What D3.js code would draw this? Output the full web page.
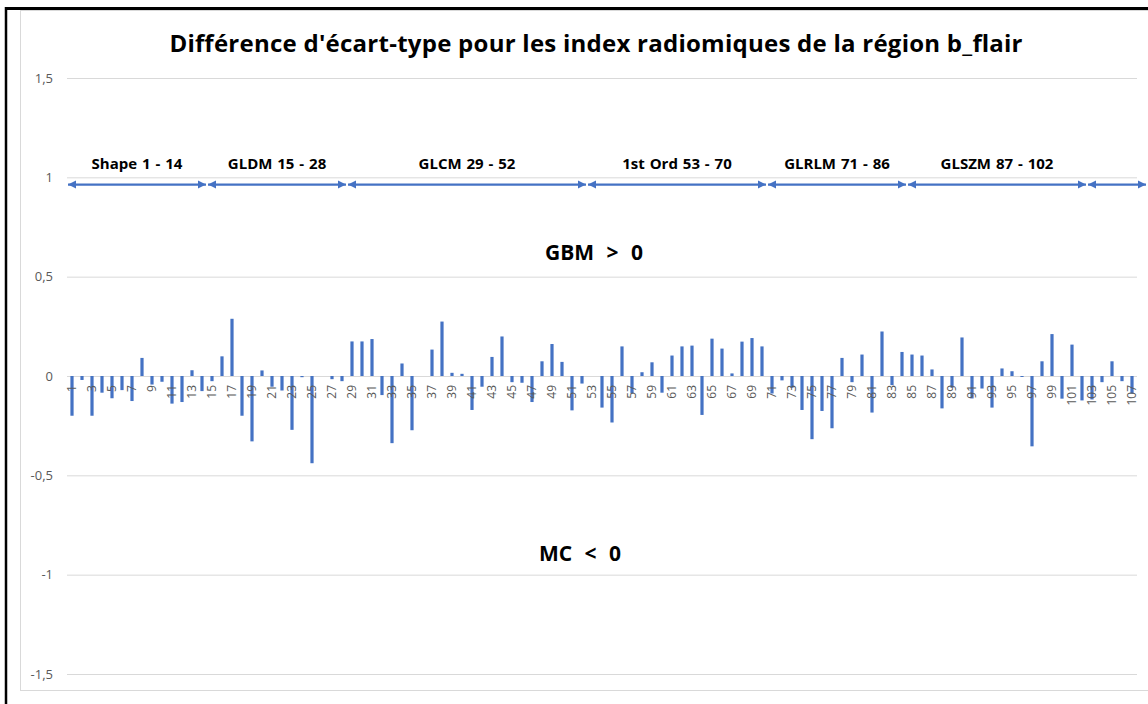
<!DOCTYPE html>
<html>
<head>
<meta charset="utf-8">
<script src="https://cdn.jsdelivr.net/npm/d3@7"></script>
<style>
  html, body { margin: 0; padding: 0; background: #fff; }
  svg { display: block; }
</style>
</head>
<body>
<svg id="chart" width="1148" height="704"></svg>
<script>
// Feature indices 1..107
const categories = d3.range(1, 108);

// Difference of standard deviation per radiomic feature (b_flair region)
const values = [
  -0.200, -0.020, -0.200, -0.084, -0.112, -0.071, -0.126, 0.091, -0.043, -0.029,
  -0.139, -0.131, 0.029, -0.076, -0.026, 0.099, 0.288, -0.200, -0.329, 0.028,
  -0.054, -0.073, -0.271, -0.006, -0.439, 0.000, -0.016, -0.026, 0.174, 0.174,
  0.186, -0.096, -0.338, 0.063, -0.273, 0.000, 0.133, 0.274, 0.016, 0.011,
  -0.171, -0.054, 0.096, 0.199, -0.031, -0.034, -0.131, 0.074, 0.161, 0.071,
  -0.173, -0.038, 0.000, -0.159, -0.234, 0.149, -0.088, 0.019, 0.069, -0.084,
  0.103, 0.149, 0.153, -0.196, 0.188, 0.138, 0.013, 0.173, 0.191, 0.149,
  -0.088, -0.022, -0.059, -0.171, -0.318, -0.176, -0.263, 0.091, -0.031, 0.108,
  -0.184, 0.224, -0.046, 0.121, 0.108, 0.103, 0.033, -0.163, -0.059, 0.194,
  -0.113, -0.063, -0.159, 0.038, 0.024, -0.005, -0.354, 0.074, 0.211, -0.114,
  0.158, -0.123, -0.118, -0.031, 0.074, -0.026, -0.089
];

// Value axis ticks
const yTicks = [-1.5, -1, -0.5, 0, 0.5, 1, 1.5];

// Category axis shows every other index
const xTickLabels = categories.filter(d => d % 2 === 1);

// Feature families: label and index span (from, to) along the category axis
const groupNames = ["Shape 1 - 14", "GLDM 15 - 28", "GLCM 29 - 52", "1st Ord 53 - 70", "GLRLM 71 - 86", "GLSZM 87 - 102", ""];
const groupFrom  = [0, 14, 28, 52, 70, 84, 102];
const groupTo    = [14, 28, 52, 70, 84, 102, 108];

const title = "Différence d'écart-type pour les index radiomiques de la région b_flair";
const upperNote = "GBM > 0";
const lowerNote = "MC < 0";

const BLUE = "#4472C4";
const GRID = "#d9d9d9";
const AXIS_TEXT = "#595959";
const FONT = "'Open Sans', sans-serif";

const svg = d3.select("#chart");

// Outer frame
svg.append("line").attr("x1", 6).attr("x2", 1148).attr("y1", 8.5).attr("y2", 8.5)
  .attr("stroke", "#000").attr("stroke-width", 3);
svg.append("line").attr("x1", 6).attr("x2", 6).attr("y1", 7).attr("y2", 704)
  .attr("stroke", "#000").attr("stroke-width", 2.5);

// Chart area border
svg.append("rect").attr("x", 20.5).attr("y", 10.5).attr("width", 1140).attr("height", 680)
  .attr("fill", "#fff").attr("stroke", GRID).attr("stroke-width", 1);

const plot = { left: 67, right: 1137, top: 78, bottom: 674 };

const x = d3.scaleBand()
  .domain(categories)
  .range([plot.left, plot.right])
  .paddingInner(0.68)
  .paddingOuter(0.34);

const y = d3.scaleLinear().domain([-1.5, 1.5]).range([plot.bottom, plot.top]);

const step = x.step();
// position of the boundary after index k (k = 0 is the left edge of the plot)
const boundary = k => plot.left + k * step;

const fmt = d3.formatLocale({ decimal: ",", thousands: " ", grouping: [3], currency: ["", " €"], minus: "-" }).format("~g");

// Gridlines and value labels
const yAxis = d3.axisLeft(y).tickValues(yTicks).tickSize(-(plot.right - plot.left)).tickPadding(14).tickFormat(fmt);
const gy = svg.append("g").attr("transform", `translate(${plot.left},0)`).call(yAxis);
gy.select(".domain").remove();
gy.selectAll(".tick line").attr("stroke", GRID).attr("stroke-width", 1);
gy.selectAll(".tick text")
  .attr("fill", AXIS_TEXT)
  .style("font-family", FONT)
  .style("font-size", "13px");

// Bars
svg.append("g").selectAll("rect")
  .data(values)
  .join("rect")
  .attr("x", (d, i) => x(categories[i]))
  .attr("width", x.bandwidth())
  .attr("y", d => y(Math.max(0, d)))
  .attr("height", d => Math.abs(y(d) - y(0)))
  .attr("fill", BLUE);

// Category labels, rotated
svg.append("g").selectAll("text")
  .data(xTickLabels)
  .join("text")
  .attr("transform", d => `translate(${x(d) + x.bandwidth() / 2},${y(0) + 9}) rotate(-90)`)
  .attr("text-anchor", "end")
  .attr("dy", "0.35em")
  .attr("fill", AXIS_TEXT)
  .style("font-family", FONT)
  .style("font-size", "12px")
  .text(d => d);

// Title
svg.append("text")
  .attr("x", 596).attr("y", 52)
  .attr("text-anchor", "middle")
  .attr("fill", "#000")
  .attr("textLength", 853)
  .attr("lengthAdjust", "spacing")
  .style("font-family", FONT)
  .style("font-weight", "bold")
  .style("font-size", "24px")
  .text(title);

// Family arrows
const defs = svg.append("defs");
defs.append("marker")
  .attr("id", "head")
  .attr("viewBox", "0 0 10 10")
  .attr("refX", 10).attr("refY", 5)
  .attr("markerWidth", 8).attr("markerHeight", 10)
  .attr("markerUnits", "userSpaceOnUse")
  .attr("orient", "auto-start-reverse")
  .append("path").attr("d", "M0,0 L10,5 L0,10 Z").attr("fill", BLUE);

const arrowY = 184.5;
const groups = svg.append("g");
groupNames.forEach((name, i) => {
  const x0 = boundary(groupFrom[i]) + 1;
  const x1 = boundary(groupTo[i]) - 1;
  groups.append("line")
    .attr("x1", x0).attr("x2", x1)
    .attr("y1", arrowY).attr("y2", arrowY)
    .attr("stroke", BLUE).attr("stroke-width", 2.25)
    .attr("marker-start", "url(#head)")
    .attr("marker-end", "url(#head)");
  if (name) {
    groups.append("text")
      .attr("x", (x0 + x1) / 2).attr("y", 169)
      .attr("text-anchor", "middle")
      .attr("fill", "#000")
      .style("font-family", FONT)
      .style("font-weight", "bold")
      .style("font-size", "15px")
      .style("word-spacing", "1px")
      .text(name);
  }
});

// Sign notes
svg.append("text")
  .attr("x", 594).attr("y", 260)
  .attr("text-anchor", "middle")
  .style("font-family", FONT)
  .style("font-weight", "bold")
  .style("font-size", "21px")
  .style("word-spacing", "7px")
  .text(upperNote);

svg.append("text")
  .attr("x", 580).attr("y", 561)
  .attr("text-anchor", "middle")
  .style("font-family", FONT)
  .style("font-weight", "bold")
  .style("font-size", "21px")
  .style("word-spacing", "7px")
  .text(lowerNote);
</script>
</body>
</html>
